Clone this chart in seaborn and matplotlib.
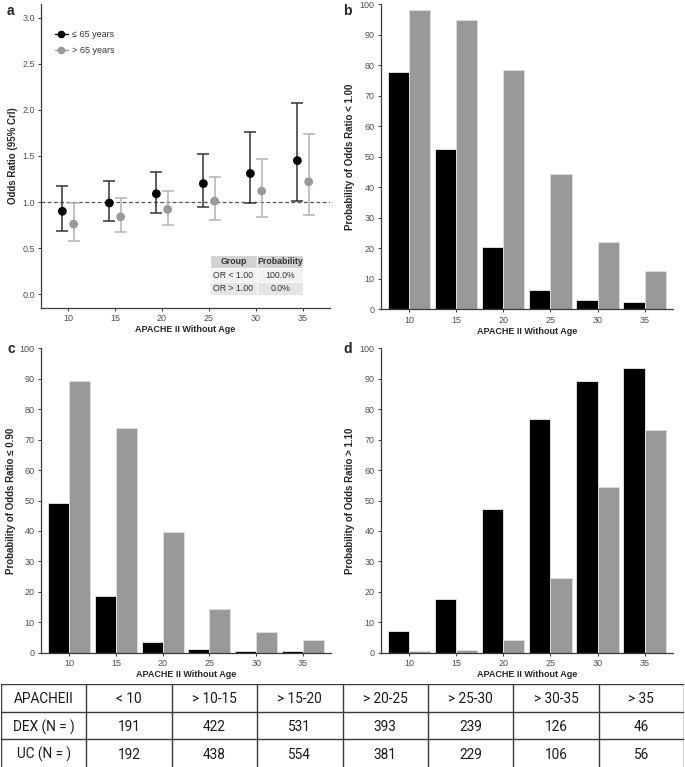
import numpy as np
import pandas as pd
import matplotlib
matplotlib.use("Agg")
import matplotlib.pyplot as plt
import seaborn as sns
from matplotlib.lines import Line2D

# APACHE II (without age) categories
apache = [10, 15, 20, 25, 30, 35]
groups = ["≤ 65 years", "> 65 years"]

# Panel a: odds ratio with 95% CrI
or_young = [0.90, 0.99, 1.09, 1.20, 1.31, 1.45]
lo_young = [0.69, 0.79, 0.88, 0.95, 0.99, 1.01]
hi_young = [1.17, 1.23, 1.33, 1.52, 1.76, 2.08]
or_old = [0.76, 0.84, 0.92, 1.01, 1.12, 1.22]
lo_old = [0.58, 0.68, 0.75, 0.81, 0.84, 0.86]
hi_old = [0.99, 1.04, 1.12, 1.27, 1.47, 1.74]

# inset table in panel a
inset_cols = ["Group", "Probability"]
inset_rows = [["OR < 1.00", "100.0%"], ["OR > 1.00", "0.0%"]]

# Panels b-d: probabilities (%)
p_lt100_young = [77.8, 52.6, 20.3, 6.4, 3.1, 2.3]
p_lt100_old = [98.0, 94.8, 78.4, 44.4, 21.9, 12.6]
p_le090_young = [49.1, 18.7, 3.5, 1.1, 0.5, 0.5]
p_le090_old = [89.2, 73.8, 39.5, 14.4, 6.7, 4.2]
p_gt110_young = [7.1, 17.8, 47.2, 76.9, 89.2, 93.6]
p_gt110_old = [0.4, 0.8, 4.2, 24.4, 54.3, 73.2]

# sample size table
tbl_header = ["APACHEII", "< 10", "> 10-15", "> 15-20", "> 20-25", "> 25-30", "> 30-35", "> 35"]
tbl_dex = ["DEX (N = )", "191", "422", "531", "393", "239", "126", "46"]
tbl_uc = ["UC (N = )", "192", "438", "554", "381", "229", "106", "56"]

sns.set_style("ticks")
plt.rcParams["font.family"] = ["Liberation Sans", "DejaVu Sans"]

W, H = 685, 767
fig = plt.figure(figsize=(W / 100, H / 100), dpi=100)


def px_axes(l, t, r, b):
    return fig.add_axes([l / W, 1 - b / H, (r - l) / W, (b - t) / H])


def style(ax):
    sns.despine(ax=ax)
    for s in ["left", "bottom"]:
        ax.spines[s].set_color("#3a3a3a")
        ax.spines[s].set_linewidth(0.9)
    ax.tick_params(axis="both", length=2.5, width=0.7, color="#3a3a3a",
                   labelsize=6.5, labelcolor="#4d4d4d", pad=2)
    ax.set_xlabel("APACHE II Without Age", fontsize=6.5, fontweight="bold", labelpad=1.5)


black, grey = "#000000", "#999999"

# ---- panel a
ax = px_axes(41, 4, 330, 308)
df_a = pd.DataFrame({
    "apache": apache * 2,
    "group": [groups[0]] * 6 + [groups[1]] * 6,
    "or": or_young + or_old,
    "lo": lo_young + lo_old,
    "hi": hi_young + hi_old,
})
df_a["x"] = df_a["apache"] + np.where(df_a["group"] == groups[0], -0.6, 0.6)
ax.axhline(1.0, color="#555555", ls=(0, (3, 2)), lw=0.9, zorder=1)
for g, ec in zip(groups, ["#333333", "#b3b3b3"]):
    d = df_a[df_a["group"] == g]
    ax.errorbar(d["x"], d["or"], yerr=[d["or"] - d["lo"], d["hi"] - d["or"]],
                fmt="none", ecolor=ec, elinewidth=1.1, capsize=4.3, capthick=1.1, zorder=2)
sns.scatterplot(data=df_a, x="x", y="or", hue="group", hue_order=groups,
                palette=[black, grey], s=40, edgecolor="none", legend=False, ax=ax, zorder=3)
ax.set_xlim(7.13, 37.87)
ax.set_ylim(-0.15, 3.15)
ax.set_xticks(apache)
ax.set_yticks(np.arange(0, 3.01, 0.5))
ax.set_yticklabels([f"{v:.1f}" for v in np.arange(0, 3.01, 0.5)])
style(ax)
ax.set_ylabel("Odds Ratio (95% CrI)", fontsize=7, fontweight="bold", labelpad=3)
handles = [Line2D([0], [0], color=c, marker="o", markersize=5.5, lw=1.0, markeredgewidth=0)
           for c in [black, grey]]
ax.legend(handles, groups, loc="upper left", bbox_to_anchor=(0.02, 0.94), frameon=False,
          fontsize=6.5, handlelength=1.4, handletextpad=0.5, labelspacing=0.75,
          labelcolor="#333333")
tb = ax.table(cellText=inset_rows, colLabels=inset_cols, cellLoc="center",
              bbox=[0.585, 0.043, 0.323, 0.131])
tb.auto_set_font_size(False)
for (r, c), cell in tb.get_celld().items():
    cell.set_edgecolor("white")
    cell.set_linewidth(0.8)
    cell.set_facecolor(["#d2d2d2", "#f2f2f2", "#e4e4e4"][r])
    cell.get_text().set_fontsize(6.3)
    cell.get_text().set_color("#333333")
    if r == 0:
        cell.get_text().set_fontweight("bold")


def bar_panel(rect, young, old, ylabel):
    ax = px_axes(*rect)
    df = pd.DataFrame({
        "apache": apache * 2,
        "group": [groups[0]] * 6 + [groups[1]] * 6,
        "prob": young + old,
    })
    sns.barplot(data=df, x="apache", y="prob", hue="group", hue_order=groups,
                palette=[black, grey], width=0.9, gap=0, saturation=1,
                edgecolor="#dcdcdc", linewidth=0.7, legend=False, ax=ax)
    ax.set_xlim(-0.6, 5.6)
    ax.set_ylim(0, 100)
    ax.set_yticks(range(0, 101, 10))
    style(ax)
    ax.set_ylabel(ylabel, fontsize=7, fontweight="bold", labelpad=3)
    return ax


bar_panel((380.7, 4, 673, 309.3), p_lt100_young, p_lt100_old, "Probability of Odds Ratio < 1.00")
bar_panel((41, 348.3, 331, 652.7), p_le090_young, p_le090_old, "Probability of Odds Ratio ≤ 0.90")
bar_panel((380.7, 348.3, 673, 652.7), p_gt110_young, p_gt110_old, "Probability of Odds Ratio > 1.10")

for lab, x, y in [("a", 7, 4), ("b", 343, 4), ("c", 7, 342), ("d", 343, 342)]:
    fig.text(x / W, 1 - y / H, lab, fontsize=10, fontweight="bold", va="top", ha="left")

# ---- bottom table
tax = fig.add_axes([1 / W, 0, 683 / W, 83 / H])
tax.set_xlim(0, 8)
tax.set_ylim(3, 0)
tax.axis("off")
for i in range(3):
    tax.axhline(i, color="#3a3a3a", lw=1.0)
for j in range(9):
    tax.axvline(j, color="#3a3a3a", lw=1.0)
for i, row in enumerate([tbl_header, tbl_dex, tbl_uc]):
    for j, txt in enumerate(row):
        tax.text(j + 0.5, i + 0.55, txt, ha="center", va="center", fontsize=9.8,
                 family=["Roboto", "DejaVu Sans"], color="#1a1a1a")

fig.savefig("out.png", dpi=100, facecolor="white")
